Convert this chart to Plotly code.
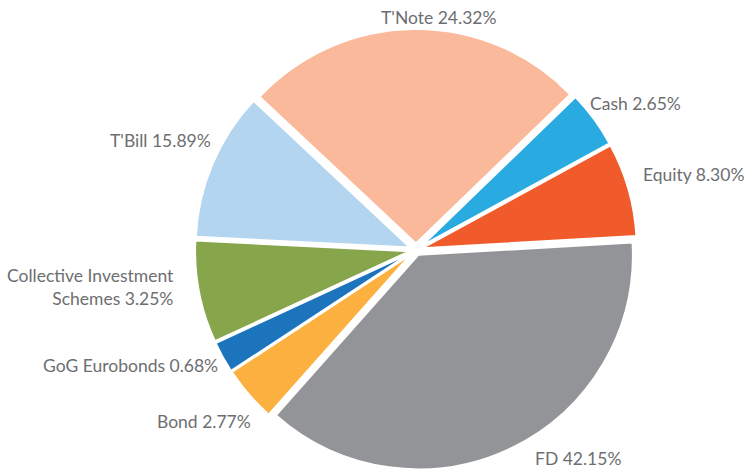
import plotly.graph_objects as go

# slice order (clockwise starting at ~3 o'clock)
categories = ["FD", "Bond", "GoG Eurobonds", "Collective Investment Schemes",
              "T'Bill", "T'Note", "Cash", "Equity"]
# label percentages printed on the chart
label_pct = [42.15, 2.77, 0.68, 3.25, 15.89, 24.32, 2.65, 8.30]
# slice sizes as drawn in the picture
slice_sizes = [37.47, 4.19, 2.36, 7.69, 11.19, 25.78, 4.28, 7.03]
label_names = ["FD", "Bond", "GoG Eurobonds", "Collective Investment<br>Schemes",
               "T'Bill", "T'Note", "Cash", "Equity"]
colors = ["#929497", "#FBB040", "#1C75BC", "#87A54A",
          "#B3D5F0", "#F9B99A", "#29AAE1", "#F15A2B"]
pulls = [0.025, 0.03, 0.03, 0.03, 0.03, 0.03, 0.03, 0.03]

texts = [f"{n} {p:.2f}%" for n, p in zip(label_names, label_pct)]

# label placement (pixel positions in the 744x471 canvas)
label_x = [533, 253, 220, 176, 213, 438, 588, 641]
label_y = [458, 421, 365, 287, 141, 18, 104, 175]
label_xanchor = ["left", "right", "right", "right", "right", "center", "left", "left"]

W, H = 744, 471
cx, cy_top = 416, 250
rp = 221
fig = go.Figure(go.Pie(
    labels=categories,
    values=slice_sizes,
    textinfo="none",
    sort=False,
    direction="clockwise",
    rotation=86.7,
    pull=pulls,
    marker=dict(colors=colors, line=dict(color="white", width=2)),
    hovertext=texts,
    hoverinfo="text",
    showlegend=False,
    automargin=False,
    domain=dict(x=[(cx - rp) / W, (cx + rp) / W], y=[0, (2 * (H - cy_top)) / H]),
))

for t, x, y, xa in zip(texts, label_x, label_y, label_xanchor):
    fig.add_annotation(
        text=t, x=x / W, y=1 - y / H, xref="paper", yref="paper",
        xanchor=xa, yanchor="middle", align=xa if xa != "center" else "center",
        showarrow=False,
        font=dict(family="Lato", size=17.5, color="#6D6E71"),
    )

fig.update_layout(
    width=W, height=H,
    margin=dict(l=0, r=0, t=0, b=0),
    paper_bgcolor="white",
    plot_bgcolor="white",
    font=dict(family="Lato"),
)
fig.write_html("out.html")
